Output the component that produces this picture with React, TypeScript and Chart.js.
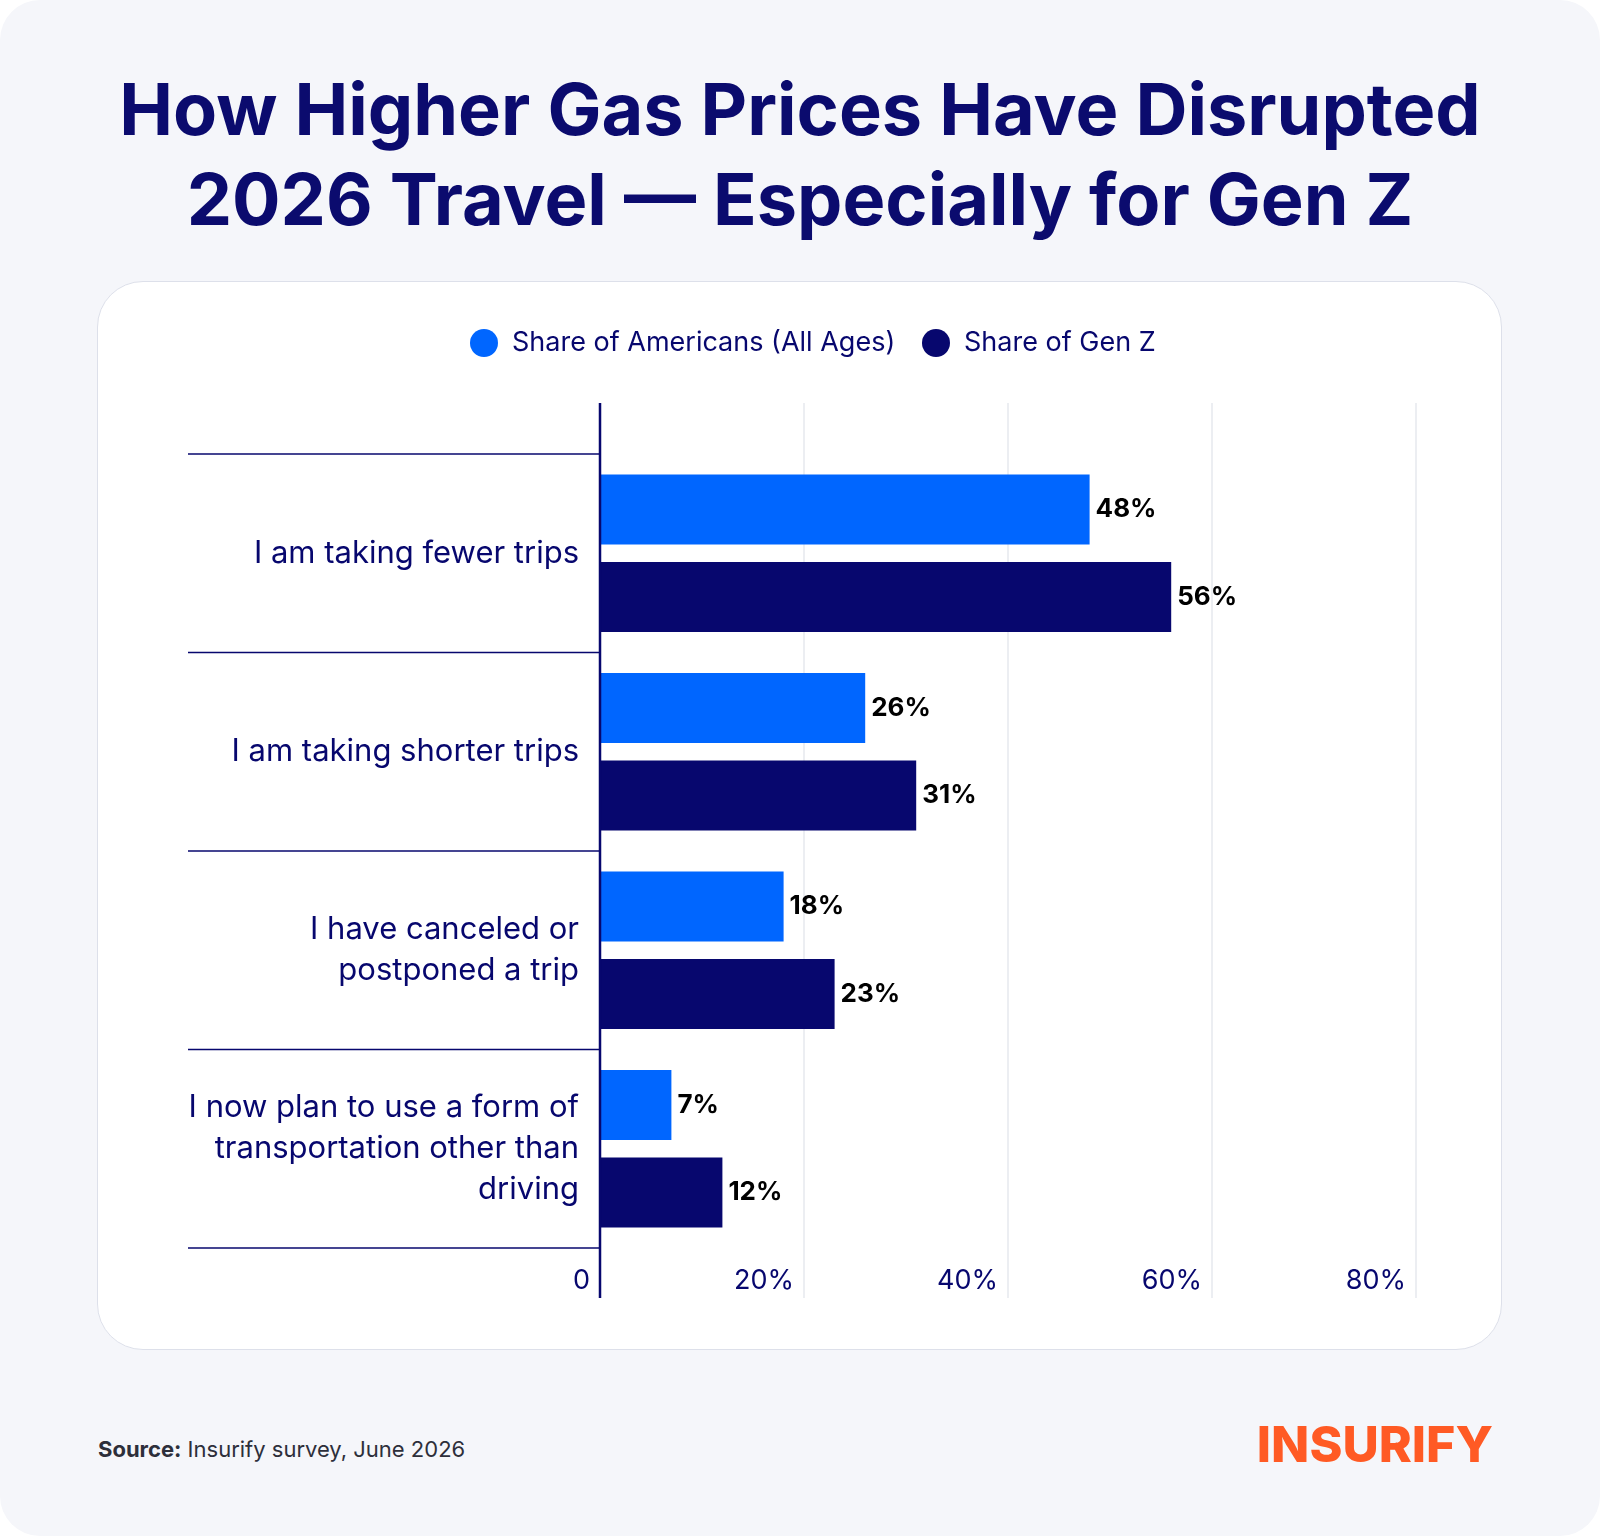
import React, { useEffect, useRef } from "react";
import { Chart, registerables } from "chart.js";
Chart.register(...registerables);

const categories: string[][] = [
  ["I am taking fewer trips"],
  ["I am taking shorter trips"],
  ["I have canceled or", "postponed a trip"],
  ["I now plan to use a form of", "transportation other than", "driving"],
];
const allAges = [48, 26, 18, 7];
const genZ = [56, 31, 23, 12];
const xTicks = [0, 20, 40, 60, 80];
const seriesNames = ["Share of Americans (All Ages)", "Share of Gen Z"];
const BLUE = "#0066ff";
const NAVY = "#07076e";
const FONT = "Inter, 'DejaVu Sans', sans-serif";

const grid = {
  id: "grid",
  beforeDatasetsDraw(chart: any) {
    const { ctx, chartArea: a, scales } = chart;
    const x = scales.x;
    ctx.save();
    ctx.strokeStyle = "#e6e8ee";
    ctx.lineWidth = 1.5;
    xTicks.slice(1).forEach((t) => {
      const px = x.getPixelForValue(t);
      ctx.beginPath(); ctx.moveTo(px, a.top - 51); ctx.lineTo(px, a.bottom + 50); ctx.stroke();
    });
    ctx.restore();
  },
};

const overlay = {
  id: "overlay",
  afterDatasetsDraw(chart: any) {
    const { ctx, chartArea: a, scales } = chart;
    const x = scales.x;
    const y = scales.y;
    ctx.save();
    ctx.fillStyle = NAVY;
    ctx.font = `400 27px ${FONT}`;
    ctx.textAlign = "right";
    ctx.textBaseline = "middle";
    xTicks.forEach((t) => {
      const px = x.getPixelForValue(t);
      ctx.fillText(t === 0 ? "0" : t + "%", px - 10, a.bottom + 33);
    });
    ctx.strokeStyle = NAVY;
    ctx.lineWidth = 1.5;
    const n = categories.length;
    const band = (a.bottom - a.top) / n;
    for (let i = 0; i <= n; i++) {
      const py = a.top + band * i;
      ctx.beginPath(); ctx.moveTo(91, py); ctx.lineTo(a.left, py); ctx.stroke();
    }
    ctx.lineWidth = 2.5;
    ctx.beginPath(); ctx.moveTo(a.left, a.top - 51); ctx.lineTo(a.left, a.bottom + 50); ctx.stroke();
    ctx.font = `400 31px ${FONT}`;
    ctx.fillStyle = NAVY;
    categories.forEach((lines, i) => {
      const cy = y.getPixelForValue(i);
      const lh = 41;
      lines.forEach((l, j) => {
        ctx.fillText(l, a.left - 21, cy + (j - (lines.length - 1) / 2) * lh);
      });
    });
    ctx.font = `700 26px ${FONT}`;
    ctx.fillStyle = "#000";
    ctx.textAlign = "left";
    chart.data.datasets.forEach((ds: any, di: number) => {
      chart.getDatasetMeta(di).data.forEach((bar: any, i: number) => {
        ctx.fillText(ds.data[i] + "%", bar.x + 6, bar.y);
      });
    });
    ctx.font = `400 27px ${FONT}`;
    ctx.fillStyle = BLUE;
    ctx.beginPath(); ctx.arc(387, 62, 14, 0, Math.PI * 2); ctx.fill();
    ctx.fillStyle = NAVY;
    ctx.beginPath(); ctx.arc(839, 62, 14, 0, Math.PI * 2); ctx.fill();
    ctx.fillText(seriesNames[0], 415, 62);
    ctx.fillText(seriesNames[1], 867, 62);
    ctx.restore();
  },
};

export default function App() {
  const ref = useRef<HTMLCanvasElement>(null);
  useEffect(() => {
    const chart = new Chart(ref.current!, {
      type: "bar",
      data: {
        labels: categories.map((c) => c.join(" ")),
        datasets: [
          { label: seriesNames[0], data: allAges, backgroundColor: BLUE },
          { label: seriesNames[1], data: genZ, backgroundColor: NAVY },
        ],
      },
      options: {
        indexAxis: "y",
        animation: false,
        responsive: false,
        devicePixelRatio: 1,
        layout: { padding: { left: 503, right: 86, top: 173, bottom: 102 } },
        datasets: { bar: { categoryPercentage: 0.882, barPercentage: 0.8 } } as any,
        scales: {
          x: { display: false, min: 0, max: 80 },
          y: { display: false },
        },
        plugins: { legend: { display: false }, tooltip: { enabled: false } },
      },
      plugins: [grid, overlay],
    });
    return () => chart.destroy();
  }, []);
  return (
    <div style={{ position: "absolute", left: 0, top: 0, width: 1600, height: 1536, background: "#f5f6fa", borderRadius: 40, fontFamily: FONT, overflow: "hidden" }}>
      <div style={{ position: "absolute", top: 64, left: 0, width: 1600, textAlign: "center", color: "#0b0b6e", fontWeight: 700, fontSize: 72, lineHeight: "90px", letterSpacing: 0 }}>
        How Higher Gas Prices Have Disrupted<br />2026 Travel — Especially for Gen Z
      </div>
      <div style={{ position: "absolute", left: 97, top: 281, width: 1403, height: 1067, background: "#fff", border: "1.5px solid #dde0ea", borderRadius: 46 }} />
      <canvas ref={ref} width={1405} height={1069} style={{ position: "absolute", left: 97, top: 281, width: 1405, height: 1069 }} />
      <div style={{ position: "absolute", left: 98, top: 1436, fontSize: 22, color: "#2d2f3a" }}>
        <b>Source:</b> Insurify survey, June 2026
      </div>
      <div style={{ position: "absolute", right: 107, top: 1414, fontSize: 50, fontWeight: 800, color: "#ff5a24", letterSpacing: 0 }}>
        INSURIFY
      </div>
    </div>
  );
}
